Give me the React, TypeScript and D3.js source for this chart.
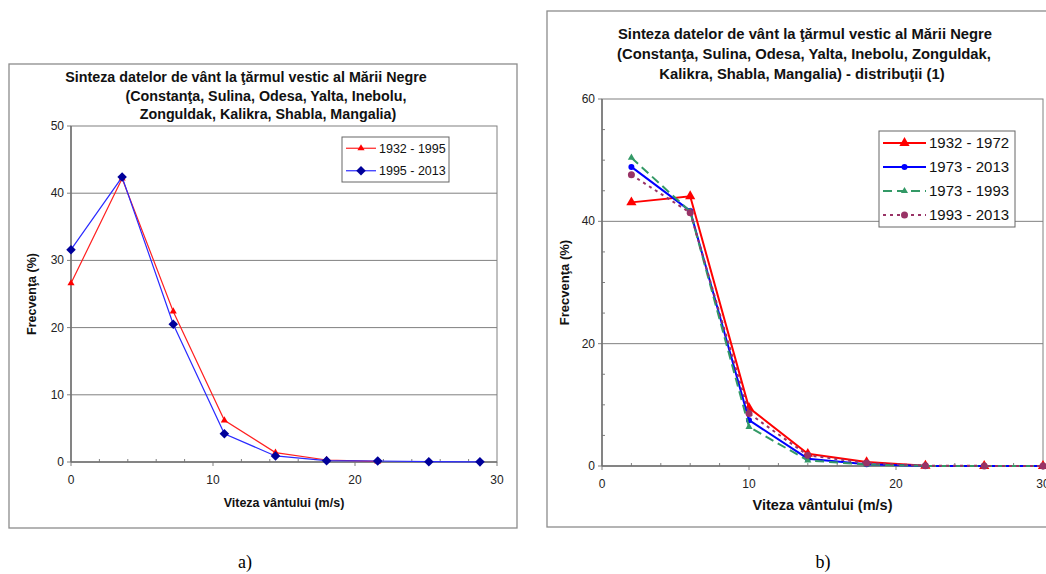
import React from "react";
import * as d3 from "d3";

// panel a) wind speed classes and frequencies
const speedA = [0, 3.6, 7.2, 10.8, 14.4, 18, 21.6, 25.2, 28.8];
const freq1932_1995 = [26.6, 42.2, 22.4, 6.2, 1.4, 0.3, 0.1];
const freq1995_2013 = [31.6, 42.4, 20.5, 4.2, 0.9, 0.2, 0.15, 0.05, 0.02];
const ticksYA = [0, 10, 20, 30, 40, 50];

// panel b)
const speedB = [2, 6, 10, 14, 18, 22, 26, 30];
const freq1932_1972 = [43.1, 44.1, 9.5, 2.0, 0.65, 0.05, 0, 0];
const freq1973_2013 = [48.9, 41.7, 7.5, 1.2, 0.3, 0.02, 0, 0];
const freq1973_1993 = [50.4, 41.6, 6.4, 0.9, 0.25, 0.02, 0, 0];
const freq1993_2013 = [47.6, 41.4, 8.6, 1.75, 0.5, 0.05, 0.02, 0];
const ticksYB = [0, 20, 40, 60];
const ticksX = [0, 10, 20, 30];

const titleA = [
  "Sinteza datelor de vânt la ţărmul vestic al Mării Negre",
  "(Constanţa, Sulina, Odesa, Yalta, Inebolu,",
  "Zonguldak, Kalikra, Shabla, Mangalia)",
];
const titleB = [
  "Sinteza datelor de vânt la ţărmul vestic al Mării Negre",
  "(Constanţa, Sulina, Odesa, Yalta, Inebolu, Zonguldak,",
  "Kalikra, Shabla, Mangalia) - distribuţii (1)",
];

const FONT = "'Liberation Sans', Arial, sans-serif";
const GRID = "#808080";

type Series = {
  name: string;
  x: number[];
  y: number[];
  color: string;
  markerColor: string;
  width: number;
  dash?: string;
  marker: "triangle" | "diamond" | "circle";
  size: number;
};

function Marker({ kind, size, color, x, y }: { kind: string; size: number; color: string; x: number; y: number }) {
  if (kind === "circle") return <circle cx={x} cy={y} r={size} fill={color} />;
  const sym = kind === "triangle" ? d3.symbolTriangle : d3.symbolDiamond2;
  const p = d3.symbol().type(sym).size(size)();
  return <path d={p || ""} transform={`translate(${x},${y})`} fill={color} />;
}

type PanelProps = {
  frame: [number, number, number, number];
  plot: [number, number, number, number];
  yMax: number;
  yTicks: number[];
  yMinor: number;
  series: Series[];
  title: string[];
  titleX: number[];
  titleY: number;
  titleGap: number;
  titleSize: number;
  legend: { x: number; y: number; w: number; h: number; gap: number; size: number; line: number };
  xTitleY: number;
  yTitleX: number;
  xTitleSize: number;
  yTitleSize: number;
};

function Panel(p: PanelProps) {
  const [l, t, r, b] = p.plot;
  const x = d3.scaleLinear().domain([0, 30]).range([l, r]);
  const y = d3.scaleLinear().domain([0, p.yMax]).range([b, t]);
  const minorX = d3.range(0, 31, 2).filter((v) => v % 10 !== 0);
  const minorY = p.yMinor ? d3.range(0, p.yMax + 0.1, p.yMinor).filter((v) => !p.yTicks.includes(v)) : [];
  const [fl, ft, fr, fb] = p.frame;
  return (
    <g fontFamily={FONT}>
      <rect x={fl} y={ft} width={fr - fl} height={fb - ft} fill="#fff" stroke="#8c8c8c" strokeWidth={1.3} />
      {p.title.map((s, i) => (
        <text key={i} x={p.titleX[i]} y={p.titleY + i * p.titleGap} textAnchor="middle" fontWeight="bold" fontSize={p.titleSize} fill="#111">
          {s}
        </text>
      ))}
      <rect x={l} y={t} width={r - l} height={b - t} fill="#fff" stroke={GRID} strokeWidth={1} />
      {p.yTicks.filter((v) => v > 0 && v < p.yMax).map((v) => (
        <line key={v} x1={l} x2={r} y1={y(v)} y2={y(v)} stroke={GRID} strokeWidth={1} />
      ))}
      {p.yTicks.map((v) => (
        <g key={v}>
          <line x1={l - 4} x2={l} y1={y(v)} y2={y(v)} stroke={GRID} />
          <text x={l - 7} y={y(v) + 4} textAnchor="end" fontSize={12} fill="#222">{v}</text>
        </g>
      ))}
      {minorY.map((v) => (
        <line key={v} x1={l} x2={l + 3} y1={y(v)} y2={y(v)} stroke={GRID} />
      ))}
      {ticksX.map((v) => (
        <g key={v}>
          <line x1={x(v)} x2={x(v)} y1={b} y2={b + 4} stroke={GRID} />
          <text x={x(v)} y={b + 22} textAnchor="middle" fontSize={12} fill="#222">{v}</text>
        </g>
      ))}
      {minorX.map((v) => (
        <line key={v} x1={x(v)} x2={x(v)} y1={b} y2={b - 3} stroke={GRID} />
      ))}
      <line x1={l} x2={l} y1={t} y2={b} stroke="#707070" strokeWidth={1.5} />
      <line x1={l} x2={r} y1={b} y2={b} stroke="#707070" strokeWidth={1.5} />
      {p.series.map((s) => {
        const pts = s.y.map((v, i) => [x(s.x[i]), y(v)] as [number, number]);
        return (
          <g key={s.name}>
            <path d={d3.line()(pts) || ""} fill="none" stroke={s.color} strokeWidth={s.width} strokeDasharray={s.dash} />
            {pts.map(([px, py], i) => (
              <Marker key={i} kind={s.marker} size={s.size} color={s.markerColor} x={px} y={py} />
            ))}
          </g>
        );
      })}
      <rect x={p.legend.x} y={p.legend.y} width={p.legend.w} height={p.legend.h} fill="#fff" stroke="#666" strokeWidth={1} />
      {p.series.map((s, i) => {
        const cy = p.legend.y + p.legend.gap * (i + 0.5) + (p.legend.h - p.legend.gap * p.series.length) / 2;
        const x0 = p.legend.x + 4;
        const x1 = x0 + p.legend.line;
        return (
          <g key={s.name}>
            <line x1={x0} x2={x1} y1={cy} y2={cy} stroke={s.color} strokeWidth={s.width} strokeDasharray={s.dash} />
            <Marker kind={s.marker} size={s.size} color={s.markerColor} x={(x0 + x1) / 2} y={cy} />
            <text x={x1 + 3} y={cy + p.legend.size * 0.36} fontSize={p.legend.size} fill="#111">{s.name}</text>
          </g>
        );
      })}
      <text x={(l + r) / 2} y={p.xTitleY} textAnchor="middle" fontWeight="bold" fontSize={p.xTitleSize} fill="#111">
        Viteza vântului (m/s)
      </text>
      <text transform={`translate(${p.yTitleX},${(t + b) / 2}) rotate(-90)`} textAnchor="middle" fontWeight="bold" fontSize={p.yTitleSize} fill="#111">
        Frecvenţa (%)
      </text>
    </g>
  );
}

export default function App() {
  const seriesA: Series[] = [
    { name: "1932 - 1995", x: speedA, y: freq1932_1995, color: "#ff2020", markerColor: "#ff0000", width: 1.2, marker: "triangle", size: 22 },
    { name: "1995 - 2013", x: speedA, y: freq1995_2013, color: "#2a2aff", markerColor: "#00009a", width: 1.2, marker: "diamond", size: 58 },
  ];
  const seriesB: Series[] = [
    { name: "1932 - 1972", x: speedB, y: freq1932_1972, color: "#ff0000", markerColor: "#ff0000", width: 2, marker: "triangle", size: 45 },
    { name: "1973 - 2013", x: speedB, y: freq1973_2013, color: "#0000ff", markerColor: "#0000ff", width: 2, marker: "circle", size: 3 },
    { name: "1973 - 1993", x: speedB, y: freq1973_1993, color: "#339966", markerColor: "#339966", width: 2, dash: "9,5", marker: "triangle", size: 22 },
    { name: "1993 - 2013", x: speedB, y: freq1993_2013, color: "#993366", markerColor: "#993366", width: 2, dash: "3,4", marker: "circle", size: 3.5 },
  ];
  return (
    <div style={{ position: "absolute", left: 0, top: 0 }}>
      <svg width={1046} height={574} style={{ display: "block", background: "#fff" }}>
        <Panel
          frame={[9, 64, 517, 528]}
          plot={[71, 126, 497, 462]}
          yMax={50}
          yTicks={ticksYA}
          yMinor={0}
          series={seriesA}
          title={titleA}
          titleX={[246, 266, 268]}
          titleY={82}
          titleGap={18.5}
          titleSize={14.3}
          legend={{ x: 342, y: 137, w: 107, h: 45, gap: 22.5, size: 12.5, line: 30 }}
          xTitleY={507}
          yTitleX={36}
          xTitleSize={12.5}
          yTitleSize={12.5}
        />
        <Panel
          frame={[547, 11, 1060, 527]}
          plot={[602, 99, 1043, 466]}
          yMax={60}
          yTicks={ticksYB}
          yMinor={5}
          series={seriesB}
          title={titleB}
          titleX={[805, 804, 802]}
          titleY={39}
          titleGap={20}
          titleSize={14.8}
          legend={{ x: 879, y: 131, w: 136, h: 96, gap: 24, size: 15, line: 43 }}
          xTitleY={510}
          yTitleX={569}
          xTitleSize={14.5}
          yTitleSize={13}
        />
        <text x={245} y={568} textAnchor="middle" fontFamily="'Liberation Serif', 'Times New Roman', serif" fontSize={18}>a)</text>
        <text x={823} y={568} textAnchor="middle" fontFamily="'Liberation Serif', 'Times New Roman', serif" fontSize={18}>b)</text>
      </svg>
    </div>
  );
}
